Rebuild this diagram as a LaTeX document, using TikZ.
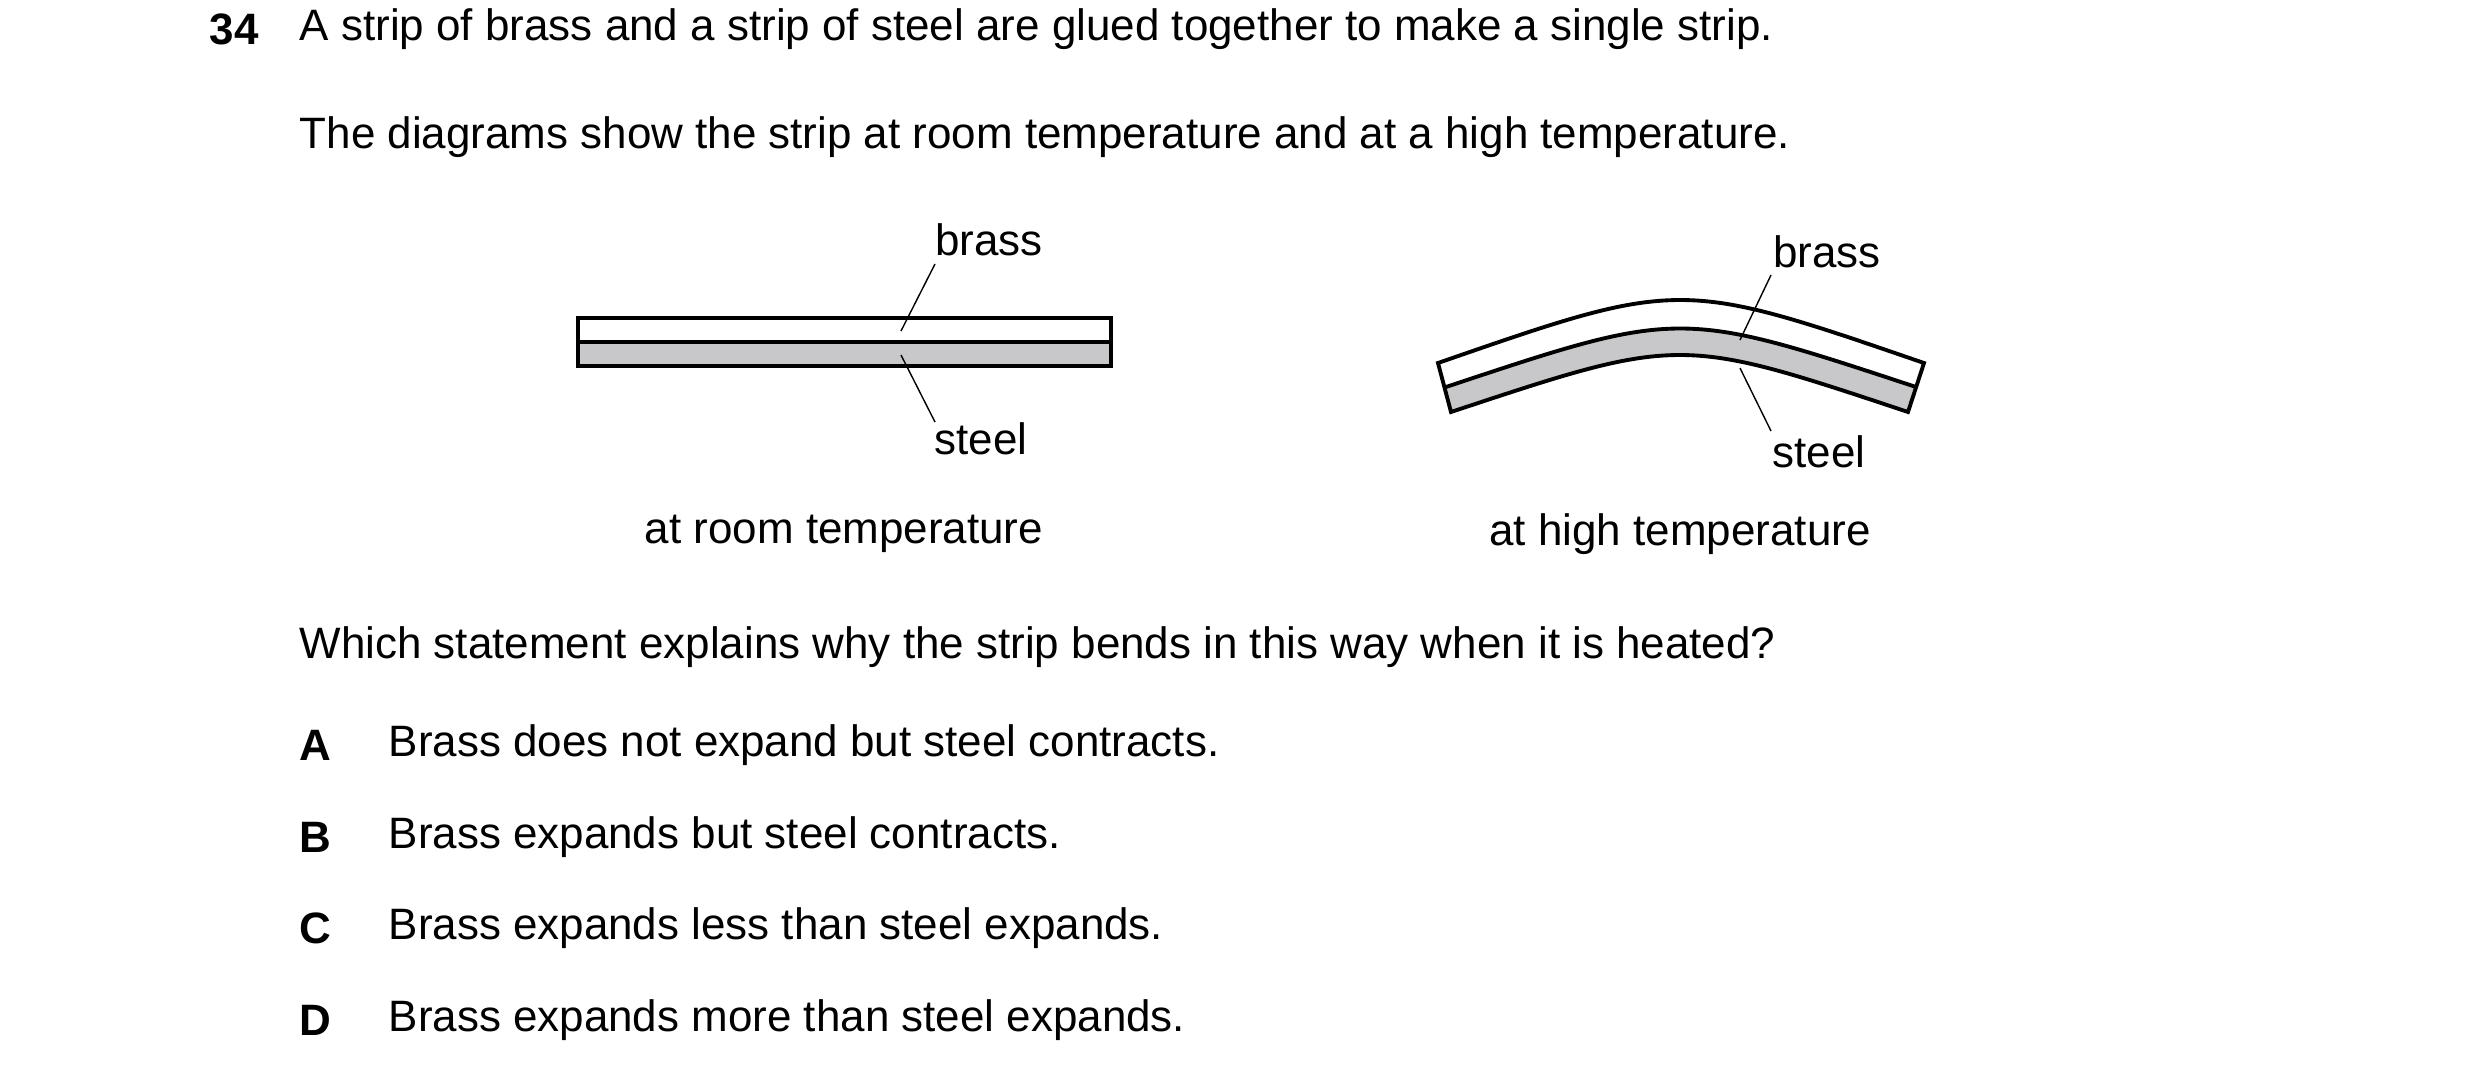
\documentclass[tikz,border=0pt]{standalone}
\usepackage{fontspec}
\setmainfont{Liberation Sans}
\usetikzlibrary{positioning}
\tikzset{
  txt/.style={anchor=west, inner sep=0pt, font=\fontsize{12.5}{15}\selectfont},
  lbl/.style={inner sep=1pt, font=\fontsize{12.5}{15}\selectfont},
  strip/.style={line width=1.1pt, line join=miter},
  leader/.style={line width=0.4pt}
}
\definecolor{steelgrey}{RGB}{200,200,202}
\begin{document}
\begin{tikzpicture}[x=0.01cm, y=-0.01cm]
  \useasboundingbox (0,0) rectangle (2480,1072);
  % question text
  \node[txt, font=\bfseries\fontsize{12.5}{15}\selectfont] (num) at (209,29) {34};
  \node[txt] (q1) at (299,29) {A strip of brass and a strip of steel are glued together to make a single strip.};
  \node[txt] (q2) at (299,137) {The diagrams show the strip at room temperature and at a high temperature.};

  % room temperature strip
  \fill[steelgrey] (578,342) rectangle (1111,366);
  \draw[strip] (578,318) rectangle (1111,366);
  \draw[strip] (578,342) -- (1111,342);
  \node[lbl] (brassA) at (989,240) {brass};
  \node[lbl] (steelA) at (981,439) {steel};
  \coordinate (bA) at (901,331);
  \coordinate (sA) at (901,355);
  \draw[leader] (935,264) -- (bA);
  \draw[leader] (935,422) -- (sA);
  \node[lbl] (capA) at (844,534) {at room temperature};

  % high temperature strip
  \fill[steelgrey] (1446,387) .. controls (1680,309) .. (1916,387) -- (1908,412)
    .. controls (1680,336) .. (1451,412) -- cycle;
  \draw[strip] (1438,363) .. controls (1680,279) .. (1924,363) -- (1908,412)
    .. controls (1680,336) .. (1451,412) -- cycle;
  \draw[strip] (1446,387) .. controls (1680,309) .. (1916,387);
  \node[lbl] (brassB) at (1827,252) {brass};
  \node[lbl] (steelB) at (1819,452) {steel};
  \coordinate (bB) at (1740,340);
  \coordinate (sB) at (1740,368);
  \draw[leader] (1771,275) -- (bB);
  \draw[leader] (1771,431) -- (sB);
  \node[lbl] (capB) at (1680,534) {at high temperature};

  % options
  \node[txt] (q3) at (299,647) {Which statement explains why the strip bends in this way when it is heated?};
  \foreach \l/\t/\y in {A/Brass does not expand but steel contracts./745,
                        B/Brass expands but steel contracts./837,
                        C/Brass expands less than steel expands./928,
                        D/Brass expands more than steel expands./1020}{
    \node[txt, font=\bfseries\fontsize{12.5}{15}\selectfont] (key\l) at (299,\y) {\l};
    \node[txt] (opt\l) at (388,\y) {\t};
  }
\end{tikzpicture}
\end{document}
